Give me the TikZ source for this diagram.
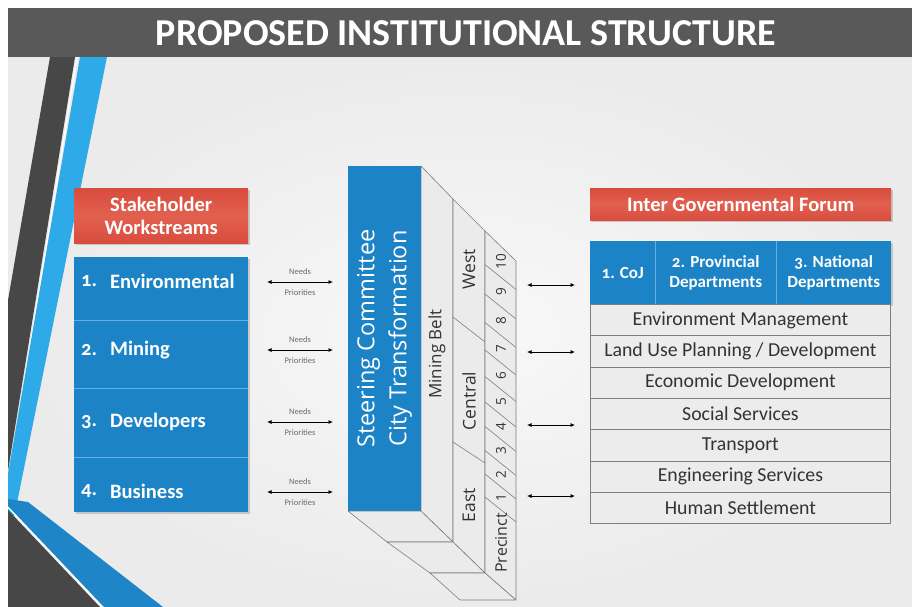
\documentclass[tikz,border=0pt]{standalone}
\usepackage{fontspec}
\setmainfont{Carlito}
\newfontfamily\osans{Open Sans}
\newfontfamily\onum[Numbers=OldStyle]{Carlito}
\usetikzlibrary{arrows.meta,shadows}

\definecolor{hdr}{HTML}{595959}
\definecolor{sblue}{HTML}{1C84C6}
\definecolor{sepblue}{HTML}{62B0E2}
\definecolor{lblue}{HTML}{2EAAE9}
\definecolor{mblue}{HTML}{1E86C8}
\definecolor{dgrey}{HTML}{474747}
\definecolor{redbox}{HTML}{D84C3E}
\definecolor{redlite}{HTML}{E2604F}
\definecolor{facec}{HTML}{EBEBEB}
\definecolor{edgec}{HTML}{7F7F7F}
\definecolor{rowfill}{HTML}{ECECEC}
\definecolor{rowtext}{HTML}{333333}
\definecolor{smalltext}{HTML}{6A6A6A}

\begin{document}
\begin{tikzpicture}[x=1pt,y=-1pt,
  redhead/.style={top color=redbox, bottom color=redbox, middle color=redlite, draw=none, text=white,
    font=\fontsize{20.5}{23}\selectfont\bfseries, align=center, inner sep=0pt,
    drop shadow={shadow xshift=1.5pt,shadow yshift=-1.5pt,opacity=0.35}},
  bluecell/.style={fill=sblue, draw=none, inner sep=0pt},
  wtxt/.style={text=white, font=\fontsize{20.5}{23}\selectfont\bfseries, inner sep=0pt},
  htxt/.style={text=white, font=\fontsize{17}{19.5}\selectfont\bfseries, align=center, inner sep=0pt},
  rowcell/.style={fill=rowfill, draw=edgec, line width=0.8pt, text=rowtext,
    font=\fontsize{19.8}{21}\selectfont, inner sep=0pt, minimum width=300pt, minimum height=31.3pt},
  sideface/.style={fill=facec, draw=edgec, line width=0.6pt, line join=round},
  divline/.style={draw=edgec, line width=0.6pt},
  dbl/.style={{Latex[length=4.5pt,width=4pt]}-{Latex[length=4.5pt,width=4pt]}, line width=0.8pt, black},
  tiny/.style={text=smalltext, font=\fontsize{8.5}{10}\selectfont, inner sep=0pt},
  ctxt/.style={text=rowtext, inner sep=0pt, rotate=90},
  sepln/.style={draw=sepblue, line width=0.8pt},
]
\useasboundingbox (0,0) rectangle (912,607);
\fill[white] (0,0) rectangle (912,607);
% background
\shade[inner color=white!95!gray, outer color=white!84!gray] (8,57) rectangle (912,607);
% decorative stripes
\begin{scope}
\clip (8,57) rectangle (912,607);
\fill[dgrey] (50,57) -- (75,57) -- (-14,607) -- (-45,607) -- cycle;
\draw[white, line width=1.2pt] (77,57) -- (-12,607);
\fill[lblue] (80,57) -- (107,57) -- (-4,607) -- (-15,607) -- cycle;
\fill[dgrey] (8,510) -- (100,607) -- (8,607) -- cycle;
\draw[white, line width=1.5pt] (8,507) -- (102,607);
\fill[mblue] (8,499) -- (28,502) -- (163,607) -- (104,607) -- (8,506) -- cycle;
\end{scope}
% header
\fill[hdr] (8,8) rectangle (912,57);
\node[text=white, font=\fontsize{38}{40}\selectfont\bfseries, inner sep=0pt] (title) at (466,33) {PROPOSED INSTITUTIONAL STRUCTURE};

% left column
\node[redhead, minimum width=174pt, minimum height=55pt, anchor=north west] (sw) at (74,188) {Stakeholder\\Workstreams};
\node[bluecell, minimum width=174pt, minimum height=255pt, anchor=north west,
  drop shadow={shadow xshift=1.5pt,shadow yshift=-1.5pt,opacity=0.35}] (lbox) at (74,257) {};
\node[bluecell, minimum width=174pt, minimum height=63pt, anchor=north west] (r1) at (74,257) {};
\node[bluecell, minimum width=174pt, minimum height=68pt, anchor=north west] (r2) at (74,320) {};
\node[bluecell, minimum width=174pt, minimum height=69pt, anchor=north west] (r3) at (74,388) {};
\node[bluecell, minimum width=174pt, minimum height=55pt, anchor=north west] (r4) at (74,457) {};
\draw[sepln] (r1.south west) -- (r1.south east);
\draw[sepln] (r2.south west) -- (r2.south east);
\draw[sepln] (r3.south west) -- (r3.south east);
\node[wtxt, anchor=west] (n1) at (81,281) {\onum 1.};
\node[wtxt, anchor=west] (t1) at (110,281) {Environmental};
\node[wtxt, anchor=west] (n2) at (81,350) {\onum 2.};
\node[wtxt, anchor=west] (t2) at (110,350) {Mining};
\node[wtxt, anchor=west] (n3) at (81,422) {\onum 3.};
\node[wtxt, anchor=west] (t3) at (110,422) {Developers};
\node[wtxt, anchor=west] (n4) at (81,491) {\onum 4.};
\node[wtxt, anchor=west] (t4) at (110,491) {Business};

% left arrows
\foreach \i/\yy in {1/282,2/350,3/422,4/492}{
  \coordinate (la\i) at (267,\yy);
  \coordinate (lb\i) at (333,\yy);
  \draw[dbl] (la\i) -- (lb\i);
  \node[tiny] (nd\i) at (300,\yy-10) {Needs};
  \node[tiny] (pr\i) at (300,\yy+11) {Priorities};
}

% central block
\draw[sideface] (421,166) -- (453,199) -- (453,542) -- (421,511) -- cycle;
\draw[sideface] (453,199) -- (485,231) -- (485,573) -- (453,542) -- cycle;
\draw[sideface] (485,231) -- (516,261) -- (516,600) -- (485,573) -- cycle;
\draw[sideface] (348,511) -- (421,511) -- (453,542) -- (387,542) -- cycle;
\draw[sideface] (387,542) -- (453,542) -- (485,573) -- (430,573) -- cycle;
\draw[sideface] (430,573) -- (485,573) -- (516,600) -- (460,600) -- cycle;
\node[bluecell, minimum width=73pt, minimum height=345pt] (sc) at (384.5,338.5) {};
\node[rotate=90, align=center, text=white, inner sep=0pt,
  font=\osans\fontsize{23.5}{32}\selectfont] (sctext) at (sc.center) {Steering Committee\\City Transformation};
% region dividers
\draw[divline] (453,317) -- (485,342);
\draw[divline] (453,442) -- (485,463);
\foreach \c in {277,306.5,335,362.5,389,414.5,439,463,486.5,509.5}{
  \draw[divline] (485,\c-12.5) -- (516,\c+12.5);
}
\node[ctxt, font=\osans\fontsize{17}{20}\selectfont] (mb) at (437,354) {Mining Belt};
\node[ctxt, font=\osans\fontsize{17.5}{20}\selectfont] (west) at (469,269) {West};
\node[ctxt, font=\osans\fontsize{17.5}{20}\selectfont] (central) at (469,401) {Central};
\node[ctxt, font=\osans\fontsize{17.5}{20}\selectfont] (east) at (469,505) {East};
\foreach \n/\yy in {10/261.5,9/291.8,8/320.8,7/348.8,6/375.8,5/401.8,4/426.8,3/451,2/474.8,1/498}{
  \node[ctxt, font=\osans\fontsize{13.5}{16}\selectfont] (p\n) at (501,\yy) {\n};
}
\node[ctxt, font=\osans\fontsize{16}{18}\selectfont] (prec) at (501,543) {Precinct};

% right arrows
\foreach \i/\yy in {1/285,2/352,3/425,4/496}{
  \coordinate (ra\i) at (527,\yy);
  \coordinate (rb\i) at (575,\yy);
  \draw[dbl] (ra\i) -- (rb\i);
}

% right column
\node[redhead, minimum width=301pt, minimum height=32pt, anchor=north west] (igf) at (590,188) {Inter Governmental Forum};
\node[bluecell, minimum width=301pt, minimum height=63pt, anchor=north west,
  drop shadow={shadow xshift=1.5pt,shadow yshift=-1.5pt,opacity=0.35}] (hbox) at (590,241) {};
\node[bluecell, htxt, minimum width=65pt, minimum height=63pt, anchor=north west] (h1) at (590,241) {\onum 1. CoJ};
\node[bluecell, htxt, minimum width=121pt, minimum height=63pt, anchor=north west] (h2) at (655,241) {\onum 2. Provincial\\Departments};
\node[bluecell, htxt, minimum width=115pt, minimum height=63pt, anchor=north west] (h3) at (776,241) {\onum 3. National\\Departments};
\draw[sepln] (h1.north east) -- (h1.south east);
\draw[sepln] (h2.north east) -- (h2.south east);
\node[rowcell, anchor=north west] (row1) at (590,304) {Environment Management};
\node[rowcell, anchor=north west] (row2) at (590,335.3) {Land Use Planning / Development};
\node[rowcell, anchor=north west] (row3) at (590,366.6) {Economic Development};
\node[rowcell, anchor=north west] (row4) at (590,397.9) {Social Services};
\node[rowcell, anchor=north west] (row5) at (590,429.2) {Transport};
\node[rowcell, anchor=north west] (row6) at (590,460.5) {Engineering Services};
\node[rowcell, anchor=north west] (row7) at (590,491.8) {Human Settlement};
\end{tikzpicture}
\end{document}
